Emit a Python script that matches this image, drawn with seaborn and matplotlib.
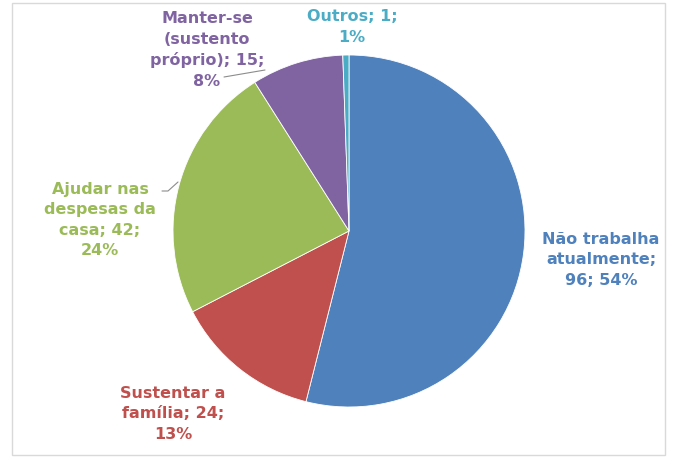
import matplotlib
matplotlib.use("Agg")
import matplotlib.pyplot as plt
import seaborn as sns
from matplotlib.patches import Rectangle

# data
categories = ["Não trabalha\natualmente;", "Sustentar a\nfamília;", "Ajudar nas\ndespesas da\ncasa;",
              "Manter-se\n(sustento\npróprio);", "Outros;"]
values = [96, 24, 42, 15, 1]
colors = ["#4F81BD", "#C0504D", "#9BBB59", "#8064A2", "#4BACC6"]
# where the value/percent go relative to the name lines
value_sep = ["\n", " ", " ", " ", " "]

sns.set_theme(style="white")
plt.rcParams["font.family"] = ["DejaVu Sans"]

W, H = 677, 458
fig = plt.figure(figsize=(W / 100, H / 100), dpi=100)
ax = fig.add_axes([0, 0, 1, 1])

# pixel geometry of the pie
cx, cy, r = 349, 231, 176


def px(x, y):
    return (x - cx) / r, (cy - y) / r


ax.pie(values, colors=colors, startangle=90, counterclock=False, radius=1,
       wedgeprops=dict(edgecolor="white", linewidth=0.6))
ax.set_xlim(-cx / r, (W - cx) / r)
ax.set_ylim(-(H - cy) / r, cy / r)
ax.set_aspect("equal")
ax.axis("off")

total = sum(values)
label_px = [(601, 260), (173, 414), (100, 220), (207, 50), (352, 27)]
for name, v, sep, c, (lx, ly) in zip(categories, values, value_sep, colors, label_px):
    pct = round(100 * v / total)
    if sep == "\n":
        t = f"{name}\n{v}; {pct}%"
    else:
        t = f"{name} {v};\n{pct}%"
    ax.text(*px(lx, ly), t, color=c, fontsize=11.5, fontweight="bold",
            ha="center", va="center", linespacing=1.45)

# leader lines
ax.plot(*zip(px(224, 77), px(265, 70)), color="#8C8C8C", lw=0.8)
ax.plot(*zip(px(162, 191), px(168, 191), px(178, 182)), color="#8C8C8C", lw=0.8)

# chart frame
fig.patches.append(Rectangle((12 / W, 3 / H), (665 - 12) / W, (455 - 3) / H,
                             transform=fig.transFigure, fill=False,
                             edgecolor="#D9D9D9", linewidth=1))

fig.savefig("out.png", dpi=100, facecolor="white")
